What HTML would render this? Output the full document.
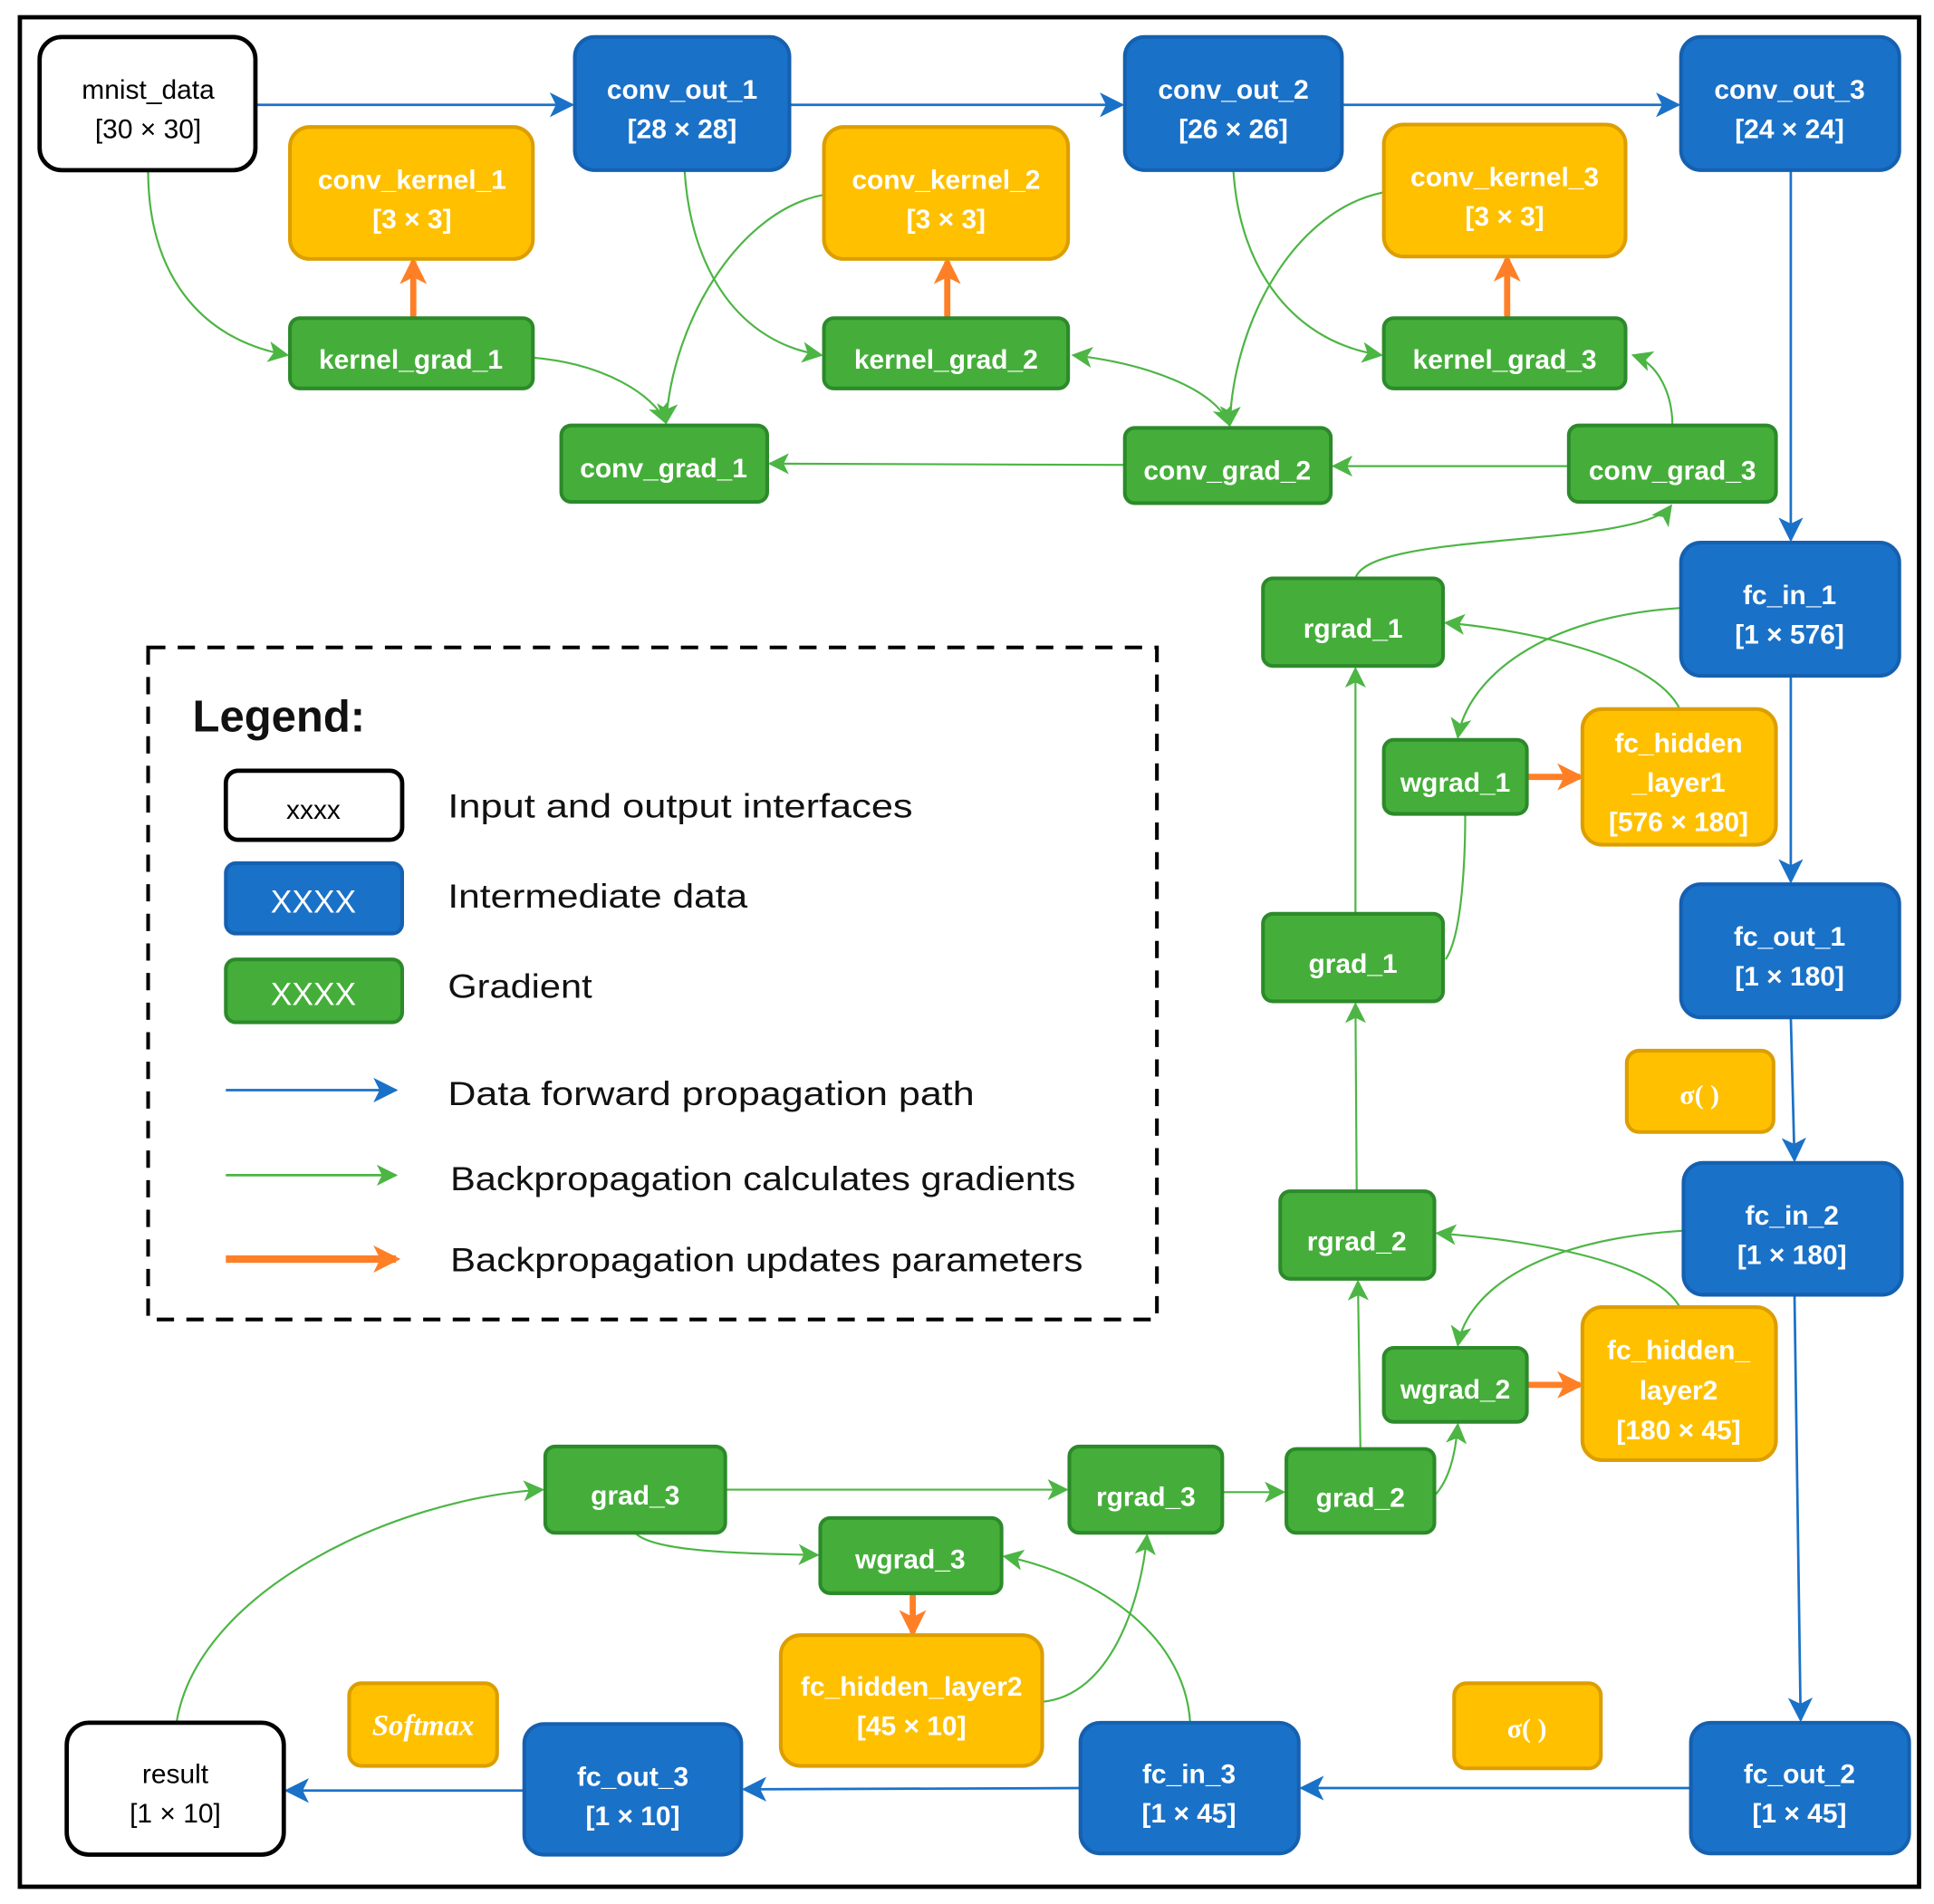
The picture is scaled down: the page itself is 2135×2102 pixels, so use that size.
<!DOCTYPE html>
<html><head><meta charset="utf-8"><style>
html,body{margin:0;padding:0;background:#fff;}
svg{display:block;}
.t{font-family:"Liberation Sans",sans-serif;font-weight:bold;fill:#fff;font-size:22px;text-anchor:middle;}
.k{fill:#000;font-weight:normal;}
.lg{font-family:"Liberation Sans",sans-serif;font-size:27px;fill:#111;}
.b{fill:#1a71c8;stroke:#1560b0;stroke-width:3;}
.y{fill:#ffc000;stroke:#dc9e00;stroke-width:3;}
.g{fill:#45ae3a;stroke:#2c8a2a;stroke-width:3;}
.w{fill:#fff;stroke:#000;stroke-width:3.5;}
.eb{stroke:#1a71c8;stroke-width:2;fill:none;marker-end:url(#mb);}
.eg{stroke:#4cb544;stroke-width:1.6;fill:none;marker-end:url(#mg);}
.eo{stroke:#ff7f27;stroke-width:5;fill:none;marker-end:url(#mo);}
</style></head><body>
<svg width="2135" height="2102" viewBox="0 0 1568 1544" xmlns="http://www.w3.org/2000/svg">
<defs>
<marker id="mb" viewBox="0 0 12 12" refX="11" refY="6" markerWidth="20" markerHeight="20" markerUnits="userSpaceOnUse" orient="auto"><path d="M0,0 L12,6 L0,12 L3,6 z" fill="#1a71c8"/></marker>
<marker id="mg" viewBox="0 0 12 12" refX="11" refY="6" markerWidth="17" markerHeight="17" markerUnits="userSpaceOnUse" orient="auto"><path d="M0,0 L12,6 L0,12 L3,6 z" fill="#4cb544"/></marker>
<marker id="mgs" viewBox="0 0 12 12" refX="1" refY="6" markerWidth="17" markerHeight="17" markerUnits="userSpaceOnUse" orient="auto"><path d="M12,0 L0,6 L12,12 L9,6 z" fill="#4cb544"/></marker>
<marker id="mo" viewBox="0 0 12 12" refX="10" refY="6" markerWidth="22" markerHeight="22" markerUnits="userSpaceOnUse" orient="auto"><path d="M0,0 L12,6 L0,12 L3,6 z" fill="#ff7f27"/></marker>
</defs>
<rect x="16" y="14" width="1540" height="1516" fill="none" stroke="#000" stroke-width="3.5"/>

<path class="eb" d="M207,85 L464,85"/>
<path class="eb" d="M640,85 L910,85"/>
<path class="eb" d="M1088,85 L1361,85"/>
<path class="eb" d="M1452,138 L1452,438"/>
<path class="eb" d="M1452,548 L1452,715"/>
<path class="eb" d="M1452,825 L1455,941"/>
<path class="eb" d="M1455,1050 L1460,1395"/>
<path class="eb" d="M1371,1450 L1055,1450"/>
<path class="eb" d="M876,1450 L603,1451"/>
<path class="eb" d="M425,1452 L232,1452"/>

<path class="eg" d="M120,138 C120,220 160,275 233,288"/>
<path class="eg" d="M555,138 C560,220 600,278 666,288"/>
<path class="eg" d="M1000,138 C1005,220 1050,278 1120,288"/>
<path class="eg" d="M668,158 C600,170 545,260 540,343"/>
<path class="eg" d="M1122,156 C1050,170 1000,260 997,345"/>
<path class="eg" d="M432,290 C490,295 530,320 540,343"/>
<path class="eg" marker-start="url(#mgs)" d="M870,288 C930,295 985,315 997,345"/>
<path class="eg" d="M1356,345 C1356,320 1345,295 1324,288"/>
<path class="eg" d="M912,377 L624,376"/>
<path class="eg" d="M1272,378 L1081,378"/>
<path class="eg" d="M1099,469 C1110,430 1330,445 1355,410"/>
<path class="eg" d="M1363,493 C1250,500 1190,550 1182,598"/>
<path class="eg" d="M1362,575 C1340,530 1230,510 1172,505"/>
<path class="eg" d="M1099,741 L1099,542"/>
<path class="eg" style="marker-end:none" d="M1172,778 C1185,760 1188,700 1188,660"/>
<path class="eg" d="M1100,966 L1099,814"/>
<path class="eg" d="M1365,998 C1250,1005 1190,1045 1182,1091"/>
<path class="eg" d="M1362,1060 C1340,1020 1230,1005 1165,1000"/>
<path class="eg" d="M1103,1175 L1101,1039"/>
<path class="eg" d="M1163,1213 C1175,1200 1180,1180 1182,1155"/>
<path class="eg" d="M588,1208 L865,1208"/>
<path class="eg" d="M991,1210 L1041,1210"/>
<path class="eg" d="M515,1243 C530,1260 620,1260 663,1261"/>
<path class="eg" d="M965,1397 C960,1320 880,1275 814,1262"/>
<path class="eg" d="M845,1380 C900,1375 925,1300 930,1245"/>
<path class="eg" d="M143,1397 C160,1290 320,1215 440,1208"/>

<path class="eo" d="M335,258 L335,212"/>
<path class="eo" d="M768,258 L768,212"/>
<path class="eo" d="M1222,258 L1222,210"/>
<path class="eo" d="M1238,630 L1281,630"/>
<path class="eo" d="M1238,1123 L1281,1123"/>
<path class="eo" d="M740,1292 L740,1324"/>

<rect class="w" x="32" y="30" width="175" height="108" rx="18"/>
<text class="t k" x="120" y="80">mnist_data</text><text class="t k" x="120" y="112">[30 × 30]</text>
<rect class="b" x="466" y="30" width="174" height="108" rx="16"/>
<text class="t" x="553" y="80">conv_out_1</text><text class="t" x="553" y="112">[28 × 28]</text>
<rect class="b" x="912" y="30" width="176" height="108" rx="16"/>
<text class="t" x="1000" y="80">conv_out_2</text><text class="t" x="1000" y="112">[26 × 26]</text>
<rect class="b" x="1363" y="30" width="177" height="108" rx="16"/>
<text class="t" x="1451" y="80">conv_out_3</text><text class="t" x="1451" y="112">[24 × 24]</text>

<rect class="y" x="235" y="103" width="197" height="107" rx="16"/>
<text class="t" x="334" y="153">conv_kernel_1</text><text class="t" x="334" y="185">[3 × 3]</text>
<rect class="y" x="668" y="103" width="198" height="107" rx="16"/>
<text class="t" x="767" y="153">conv_kernel_2</text><text class="t" x="767" y="185">[3 × 3]</text>
<rect class="y" x="1122" y="101" width="196" height="107" rx="16"/>
<text class="t" x="1220" y="151">conv_kernel_3</text><text class="t" x="1220" y="183">[3 × 3]</text>

<rect class="g" x="235" y="258" width="197" height="57" rx="8"/><text class="t" x="333" y="299">kernel_grad_1</text>
<rect class="g" x="668" y="258" width="198" height="57" rx="8"/><text class="t" x="767" y="299">kernel_grad_2</text>
<rect class="g" x="1122" y="258" width="196" height="57" rx="8"/><text class="t" x="1220" y="299">kernel_grad_3</text>

<rect class="g" x="455" y="345" width="167" height="62" rx="8"/><text class="t" x="538" y="387">conv_grad_1</text>
<rect class="g" x="912" y="347" width="167" height="61" rx="8"/><text class="t" x="995" y="389">conv_grad_2</text>
<rect class="g" x="1272" y="345" width="168" height="62" rx="8"/><text class="t" x="1356" y="389">conv_grad_3</text>

<rect class="b" x="1363" y="440" width="177" height="108" rx="16"/>
<text class="t" x="1451" y="490">fc_in_1</text><text class="t" x="1451" y="522">[1 × 576]</text>
<rect class="g" x="1024" y="469" width="146" height="71" rx="8"/><text class="t" x="1097" y="517">rgrad_1</text>
<rect class="g" x="1122" y="600" width="116" height="60" rx="8"/><text class="t" x="1180" y="642">wgrad_1</text>
<rect class="y" x="1283" y="575" width="157" height="110" rx="16"/>
<text class="t" x="1361" y="610">fc_hidden</text><text class="t" x="1361" y="642">_layer1</text><text class="t" x="1361" y="674">[576 × 180]</text>
<rect class="b" x="1363" y="717" width="177" height="108" rx="16"/>
<text class="t" x="1451" y="767">fc_out_1</text><text class="t" x="1451" y="799">[1 × 180]</text>
<rect class="g" x="1024" y="741" width="146" height="71" rx="8"/><text class="t" x="1097" y="789">grad_1</text>
<rect class="y" x="1319" y="852" width="119" height="66" rx="10"/><text class="t" x="1378" y="895" style="font-family:'Liberation Serif',serif;">σ( )</text>
<rect class="b" x="1365" y="943" width="177" height="107" rx="16"/>
<text class="t" x="1453" y="993">fc_in_2</text><text class="t" x="1453" y="1025">[1 × 180]</text>
<rect class="g" x="1038" y="966" width="125" height="71" rx="8"/><text class="t" x="1100" y="1014">rgrad_2</text>
<rect class="g" x="1122" y="1093" width="116" height="60" rx="8"/><text class="t" x="1180" y="1134">wgrad_2</text>
<rect class="y" x="1283" y="1060" width="157" height="124" rx="16"/>
<text class="t" x="1361" y="1102">fc_hidden_</text><text class="t" x="1361" y="1135">layer2</text><text class="t" x="1361" y="1167">[180 × 45]</text>

<rect class="g" x="442" y="1173" width="146" height="70" rx="8"/><text class="t" x="515" y="1220">grad_3</text>
<rect class="g" x="867" y="1173" width="124" height="70" rx="8"/><text class="t" x="929" y="1221">rgrad_3</text>
<rect class="g" x="1043" y="1175" width="120" height="68" rx="8"/><text class="t" x="1103" y="1222">grad_2</text>
<rect class="g" x="665" y="1231" width="147" height="61" rx="8"/><text class="t" x="738" y="1272">wgrad_3</text>
<rect class="y" x="633" y="1326" width="212" height="106" rx="16"/>
<text class="t" x="739" y="1375">fc_hidden_layer2</text><text class="t" x="739" y="1407">[45 × 10]</text>
<rect class="y" x="283" y="1365" width="120" height="67" rx="10"/><text class="t" x="343" y="1407" style="font-family:'Liberation Serif',serif;font-style:italic;font-size:24px;">Softmax</text>
<rect class="y" x="1179" y="1365" width="119" height="69" rx="10"/><text class="t" x="1238" y="1409" style="font-family:'Liberation Serif',serif;">σ( )</text>

<rect class="w" x="54" y="1397" width="176" height="107" rx="18"/>
<text class="t k" x="142" y="1446">result</text><text class="t k" x="142" y="1478">[1 × 10]</text>
<rect class="b" x="425" y="1398" width="176" height="106" rx="16"/>
<text class="t" x="513" y="1448">fc_out_3</text><text class="t" x="513" y="1480">[1 × 10]</text>
<rect class="b" x="876" y="1397" width="177" height="106" rx="16"/>
<text class="t" x="964" y="1446">fc_in_3</text><text class="t" x="964" y="1478">[1 × 45]</text>
<rect class="b" x="1371" y="1397" width="177" height="106" rx="16"/>
<text class="t" x="1459" y="1446">fc_out_2</text><text class="t" x="1459" y="1478">[1 × 45]</text>

<rect x="120" y="525" width="818" height="545" fill="none" stroke="#000" stroke-width="3" stroke-dasharray="14,10"/>
<text class="lg" x="156" y="593" style="font-size:36px;font-weight:bold;">Legend:</text>
<rect class="w" x="183" y="625" width="143" height="56" rx="10"/>
<text class="t k" x="254" y="664">xxxx</text>
<rect class="b" x="183" y="700" width="143" height="57" rx="8"/>
<text class="t" x="254" y="740" style="font-size:26px;font-weight:normal;">XXXX</text>
<rect class="g" x="183" y="778" width="143" height="51" rx="8"/>
<text class="t" x="254" y="815" style="font-size:26px;font-weight:normal;">XXXX</text>
<text class="lg" x="363" y="663" textLength="377" lengthAdjust="spacingAndGlyphs">Input and output interfaces</text>
<text class="lg" x="363" y="736" textLength="243" lengthAdjust="spacingAndGlyphs">Intermediate data</text>
<text class="lg" x="363" y="809" textLength="117" lengthAdjust="spacingAndGlyphs">Gradient</text>
<path d="M183,884 L321,884" stroke="#1a71c8" stroke-width="2" fill="none" marker-end="url(#mb)"/>
<path d="M183,953 L321,953" stroke="#4cb544" stroke-width="2" fill="none" marker-end="url(#mg)"/>
<path d="M183,1021 L321,1021" stroke="#ff7f27" stroke-width="6" fill="none" marker-end="url(#mo)"/>
<text class="lg" x="363" y="896" textLength="427" lengthAdjust="spacingAndGlyphs">Data forward propagation path</text>
<text class="lg" x="365" y="965" textLength="507" lengthAdjust="spacingAndGlyphs">Backpropagation calculates gradients</text>
<text class="lg" x="365" y="1031" textLength="513" lengthAdjust="spacingAndGlyphs">Backpropagation updates parameters</text>
</svg>
</body></html>
